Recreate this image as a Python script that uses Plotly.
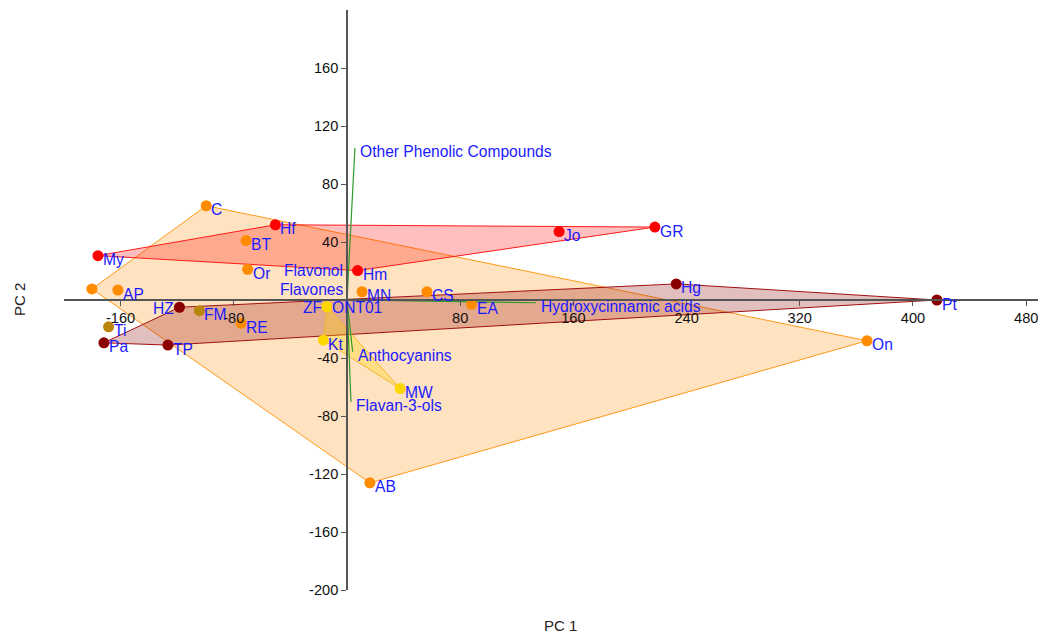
import plotly.graph_objects as go

# ---------------- data ----------------
sample_names = ["C", "BT", "Or", "AP", "", "MN", "CS", "EA", "RE", "AB", "On",
                "My", "Hf", "Hm", "Jo", "GR",
                "HZ", "Pa", "TP", "Hg", "Pt",
                "FM", "Ti",
                "ZF", "ONT01", "Kt", "MW"]
pc1 = [-99.5, -71.3, -70.2, -161.9, -180.3, 10.6, 56.5, 88.0, -74.8, 16.2, 367.5,
       -176.0, -50.6, 7.5, 149.9, 217.6,
       -118.4, -171.8, -126.6, 232.7, 416.9,
       -104.3, -168.5,
       -14.1, -14.0, -16.7, 37.6]
pc2 = [65.0, 41.0, 21.2, 6.9, 7.6, 5.7, 5.7, -3.0, -16.1, -126.1, -28.1,
       30.6, 51.9, 20.3, 47.2, 50.3,
       -5.0, -29.5, -31.1, 11.1, 0.0,
       -7.4, -18.5,
       -4.6, -4.7, -27.7, -61.1]
groups = ["orange"] * 11 + ["red"] * 5 + ["darkred"] * 5 + ["goldenrod"] * 2 + ["gold"] * 4

loading_names = ["Other Phenolic Compounds", "Hydroxycinnamic acids", "Anthocyanins",
                 "Flavan-3-ols", "Flavonol", "Flavones"]
loading_pc1 = [5.6, 133.4, 4.0, 2.8, 0.4, 0.4]
loading_pc2 = [104.9, -1.9, -35.7, -70.3, 20.7, 7.6]

x_ticks = [-160, -80, 80, 160, 240, 320, 400, 480]
y_ticks = [-200, -160, -120, -80, -40, 40, 80, 120, 160]

# ---------------- styles ----------------
group_order = ["orange", "red", "darkred", "goldenrod", "gold"]
point_color = {"orange": "#FF8C00", "red": "#FF0000", "darkred": "#8B0000",
               "goldenrod": "#B8860B", "gold": "#FFD700"}
fill_color = {"orange": "rgba(255,140,0,0.25)", "red": "rgba(255,0,0,0.25)",
              "darkred": "rgba(139,0,0,0.25)", "goldenrod": "rgba(184,134,11,0.25)",
              "gold": "rgba(255,215,0,0.3)"}
line_color = {"orange": "#FF9A1A", "red": "#FF1A1A", "darkred": "#A01010",
              "goldenrod": "#B8860B", "gold": "#F5B72A"}
left_labels = {"HZ", "ZF", "Flavonol", "Flavones"}
middle_labels = {"HZ", "ZF", "ONT01"}
FONT = "Liberation Sans, Arial, Helvetica, sans-serif"
X_RANGE = [-200, 494]
Y_RANGE = [-200, 200]


def hull(pts):
    pts = sorted(set(pts))
    if len(pts) < 3:
        return pts

    def cross(o, a, b):
        return (a[0] - o[0]) * (b[1] - o[1]) - (a[1] - o[1]) * (b[0] - o[0])
    lower, upper = [], []
    for p in pts:
        while len(lower) >= 2 and cross(lower[-2], lower[-1], p) <= 0:
            lower.pop()
        lower.append(p)
    for p in reversed(pts):
        while len(upper) >= 2 and cross(upper[-2], upper[-1], p) <= 0:
            upper.pop()
        upper.append(p)
    return lower[:-1] + upper[:-1]


fig = go.Figure()

# group hulls
for g in group_order:
    pts = [(x, y) for x, y, gg in zip(pc1, pc2, groups) if gg == g]
    h = hull(pts)
    if len(h) < 3:
        continue
    hx = [p[0] for p in h] + [h[0][0]]
    hy = [p[1] for p in h] + [h[0][1]]
    fig.add_trace(go.Scatter(x=hx, y=hy, mode="lines", fill="toself",
                             fillcolor=fill_color[g],
                             line=dict(color=line_color[g], width=1),
                             hoverinfo="skip", showlegend=False))

# loading vectors
lx, ly = [], []
for a, b in zip(loading_pc1, loading_pc2):
    lx += [0, a, None]
    ly += [0, b, None]
fig.add_trace(go.Scatter(x=lx, y=ly, mode="lines",
                         line=dict(color="#2E9B2E", width=1.2),
                         hoverinfo="skip", showlegend=False))

# sample points
for g in group_order:
    xs = [x for x, gg in zip(pc1, groups) if gg == g]
    ys = [y for y, gg in zip(pc2, groups) if gg == g]
    fig.add_trace(go.Scatter(x=xs, y=ys, mode="markers",
                             marker=dict(color=point_color[g], size=11, line=dict(width=0)),
                             showlegend=False))

# labels
annotations = []
for name, x, y in list(zip(sample_names, pc1, pc2)) + list(zip(loading_names, loading_pc1, loading_pc2)):
    if not name:
        continue
    left = name in left_labels
    ysh = -1 if name in middle_labels or left else -4
    annotations.append(dict(x=x, y=y, xref="x", yref="y", text=name, showarrow=False,
                            xanchor="right" if left else "left", yanchor="middle",
                            xshift=-3 if left else 3, yshift=ysh,
                            font=dict(color="#1A1AFF", size=15.6, family=FONT)))

annotations.append(dict(x=0.5, y=0, xref="paper", yref="paper", text="PC 1", showarrow=False,
                        xanchor="center", yanchor="middle", xshift=5, yshift=-35,
                        font=dict(color="#222", size=15, family=FONT)))
annotations.append(dict(x=0, y=0.5, xref="paper", yref="paper", text="PC 2", showarrow=False,
                        xanchor="center", yanchor="middle", xshift=-45, textangle=-90,
                        font=dict(color="#222", size=15, family=FONT)))

x_zero = (0 - Y_RANGE[0]) / (Y_RANGE[1] - Y_RANGE[0])
y_zero = (0 - X_RANGE[0]) / (X_RANGE[1] - X_RANGE[0])

# page body has an 8px margin, so the figure is 8px smaller and offset
fig.update_layout(
    width=1038, height=626,
    margin=dict(l=56, r=0, t=2, b=44),
    plot_bgcolor="white", paper_bgcolor="white",
    showlegend=False,
    annotations=annotations,
    font=dict(family=FONT, size=14.6, color="#111"),
    xaxis=dict(range=X_RANGE, anchor="free", position=x_zero, showgrid=False, zeroline=False,
               showline=True, linecolor="#555", linewidth=1.5,
               ticks="outside", ticklen=5, tickcolor="#555", tickwidth=1,
               tickmode="array", tickvals=x_ticks, ticktext=[str(v) for v in x_ticks],
               tickfont=dict(size=14.6, color="#111")),
    yaxis=dict(range=Y_RANGE, anchor="free", position=y_zero, showgrid=False, zeroline=False,
               showline=True, linecolor="#555", linewidth=1.5,
               ticks="outside", ticklen=5, tickcolor="#555", tickwidth=1,
               tickmode="array", tickvals=y_ticks, ticktext=[str(v) for v in y_ticks],
               tickfont=dict(size=14.6, color="#111")),
)

fig.write_html("out.html")
